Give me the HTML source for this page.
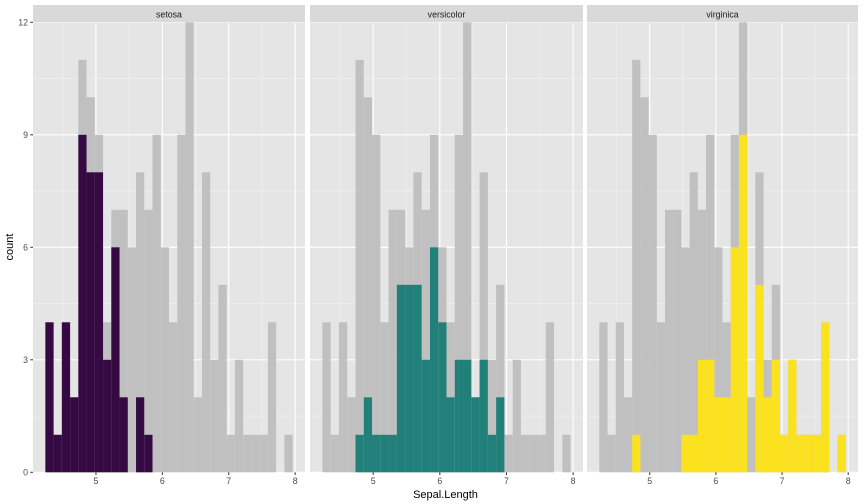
<!DOCTYPE html>
<html><head><meta charset="utf-8"><style>
body{margin:0;background:#fff;}
svg{display:block;font-family:"Liberation Sans",Arial,sans-serif;}
</style></head><body>
<svg id="chart" width="864" height="504" viewBox="0 0 864 504"></svg>
<script>
const species = ["setosa","versicolor","virginica"];
const colors = ["#350a43","#21807a","#fbe21f"];
const allCounts = [4,1,4,2,11,10,9,4,7,7,6,8,7,9,6,4,9,12,2,8,3,5,1,3,1,1,1,4,0,1];
const setosaCounts = [4,1,4,2,9,8,8,3,6,2,0,2,1,0,0,0,0,0,0,0,0,0,0,0,0,0,0,0,0,0];
const versicolorCounts = [0,0,0,0,1,2,1,1,1,5,5,5,3,6,4,2,3,3,2,3,1,2,0,0,0,0,0,0,0,0];
const virginicaCounts = [0,0,0,0,1,0,0,0,0,0,1,1,3,3,2,2,6,9,0,5,2,3,1,3,1,1,1,4,0,1];
const yTicks = [0,3,6,9,12];
const xTicks = [5,6,7,8];
const binMin = 4.3, binMax = 7.9, nBins = 30;

const svg = document.getElementById('chart');
const NS = "http://www.w3.org/2000/svg";
function mk(tag, attrs, parent){const e=document.createElementNS(NS,tag);for(const k in attrs)e.setAttribute(k,attrs[k]);(parent||svg).appendChild(e);return e;}
const panels = [{x0:33,x1:305},{x0:310,x1:583},{x0:587,x1:858}];
const pTop = 22.3, pBot = 472.3;
const bw = (binMax-binMin)/(nBins-1);
const dMin = binMin-bw/2, dMax = binMax+bw/2, ex = (dMax-dMin)*0.05;
function yS(v){return pBot - v*(pBot-pTop)/12;}
const seriesCounts=[setosaCounts,versicolorCounts,virginicaCounts];
panels.forEach((p,pi)=>{
  function xS(v){return p.x0 + (v-(dMin-ex))*(p.x1-p.x0)/((dMax+ex)-(dMin-ex));}
  const g = mk('g',{});
  
  
  const bg = mk('rect',{x:p.x0,y:pTop,width:p.x1-p.x0,height:pBot-pTop,fill:'#e5e5e5'},g);
  
  
  for(let v=1.5; v<12; v+=3){mk('line',{x1:p.x0,x2:p.x1,y1:yS(v),y2:yS(v),stroke:'#f2f2f2','stroke-width':0.6},g);}
  for(let v=4.5; v<8.2; v+=1){mk('line',{x1:xS(v),x2:xS(v),y1:pTop,y2:pBot,stroke:'#f2f2f2','stroke-width':0.6},g);}
  yTicks.forEach(v=>mk('line',{x1:p.x0,x2:p.x1,y1:yS(v),y2:yS(v),stroke:'#fff','stroke-width':1.1},g));
  xTicks.forEach(v=>mk('line',{x1:xS(v),x2:xS(v),y1:pTop,y2:pBot,stroke:'#fff','stroke-width':1.1},g));
  allCounts.forEach((c,i)=>{ if(!c) return;
    const c0=binMin+(i-0.5)*bw;
    const r=mk('rect',{x:xS(c0),y:yS(c),width:xS(c0+bw)-xS(c0),height:yS(0)-yS(c),fill:'#bebebe','fill-opacity':0.95},g);
    
    
  });
  seriesCounts[pi].forEach((c,i)=>{ if(!c) return;
    const c0=binMin+(i-0.5)*bw;
    const r=mk('rect',{x:xS(c0),y:yS(c),width:xS(c0+bw)-xS(c0),height:yS(0)-yS(c),fill:colors[pi]},g);
    
    
  });
  const st=mk('rect',{x:p.x0,y:5,width:p.x1-p.x0,height:17.3,fill:'#d9d9d9'},g);
  
  
  const stt=mk('text',{x:(p.x0+p.x1)/2,y:17.5,'text-anchor':'middle','font-size':8.8,fill:'#1a1a1a'},g);
  stt.textContent=species[pi];
  
  
  xTicks.forEach(v=>{
    mk('line',{x1:xS(v),x2:xS(v),y1:pBot,y2:pBot+2.7,stroke:'#333','stroke-width':1},g);
    const t=mk('text',{x:xS(v),y:pBot+11.5,'text-anchor':'middle','font-size':8.8,fill:'#4d4d4d'},g);
    t.textContent=v;
    
    
  });
});
yTicks.forEach(v=>{
  mk('line',{x1:30.3,x2:33,y1:yS(v),y2:yS(v),stroke:'#333','stroke-width':1});
  const t=mk('text',{x:28,y:yS(v)+3,'text-anchor':'end','font-size':8.8,fill:'#4d4d4d'});
  t.textContent=v;
  
  
});
const xt=mk('text',{x:445.5,y:498,'text-anchor':'middle','font-size':11,fill:'#000'});
xt.textContent='Sepal.Length';


const yt=mk('text',{x:13,y:247,'text-anchor':'middle','font-size':11,fill:'#000',transform:'rotate(-90 13 247)'});
yt.textContent='count';


</script>
</body></html>
